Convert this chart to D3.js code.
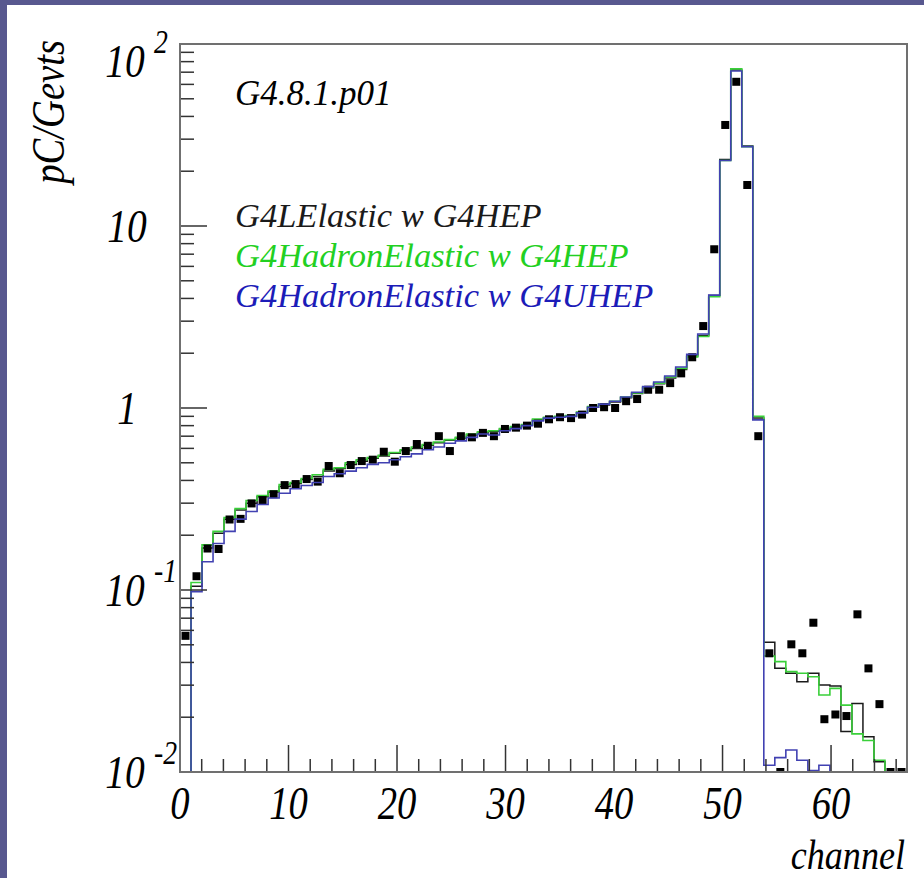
<!DOCTYPE html>
<html>
<head>
<meta charset="utf-8">
<script src="https://cdn.jsdelivr.net/npm/d3@7"></script>
<style>
body { margin: 0; background: #58588f; }
text { font-family: "Liberation Serif", "DejaVu Serif", serif; font-style: italic; }
</style>
</head>
<body>
<svg id="chart" width="924" height="878"></svg>
<script>
// 66 bins spanning channel 0..67
var nBins = 66;
var xMax = 67;

// measured charge per bin (pC/Gevts)
var dataPoints = [0.056, 0.119, 0.169, 0.168, 0.244, 0.246, 0.299, 0.312, 0.336, 0.377,
	0.382, 0.407, 0.394, 0.48, 0.438, 0.486, 0.511, 0.52, 0.575, 0.507,
	0.58, 0.634, 0.62, 0.70, 0.58, 0.70, 0.69, 0.73, 0.70, 0.767,
	0.78, 0.80, 0.82, 0.867, 0.89, 0.88, 0.92, 1.0, 1.01, 1.0,
	1.09, 1.12, 1.26, 1.26, 1.37, 1.55, 1.90, 2.82, 7.45, 35.9,
	62, 16.8, 0.70, 0.0449, 0.01, 0.0503, 0.0449, 0.0661, 0.0195, 0.0207,
	0.0203, 0.0735, 0.0371, 0.0236, 0.01, 0.01];

// G4LElastic w G4HEP
var lelasticHep = [0, 0.105, 0.17, 0.205, 0.245, 0.275, 0.30, 0.325, 0.345, 0.37,
	0.385, 0.405, 0.42, 0.45, 0.465, 0.49, 0.51, 0.53, 0.545, 0.565,
	0.585, 0.60, 0.625, 0.645, 0.665, 0.685, 0.71, 0.73, 0.745, 0.765,
	0.785, 0.805, 0.86, 0.88, 0.895, 0.905, 0.945, 1.01, 1.04, 1.08,
	1.14, 1.20, 1.29, 1.36, 1.46, 1.63, 1.93, 2.5, 4.15, 23.2,
	72, 27.5, 0.88, 0.0516, 0.0371, 0.0349, 0.0313, 0.0349, 0.0301, 0.0297,
	0.0167, 0.0238, 0.0156, 0.0114, 0, 0];

// G4HadronElastic w G4HEP
var hadronHep = [0, 0.11, 0.177, 0.21, 0.25, 0.28, 0.31, 0.33, 0.35, 0.38,
	0.39, 0.41, 0.43, 0.46, 0.47, 0.50, 0.52, 0.535, 0.55, 0.57,
	0.59, 0.61, 0.63, 0.65, 0.67, 0.69, 0.72, 0.74, 0.75, 0.77,
	0.79, 0.81, 0.87, 0.89, 0.90, 0.91, 0.95, 1.02, 1.05, 1.09,
	1.15, 1.21, 1.30, 1.37, 1.48, 1.65, 1.91, 2.47, 4.09, 22.9,
	73, 27.3, 0.90, 0.0434, 0.0404, 0.0356, 0.0349, 0.0334, 0.0265, 0.0288,
	0.0233, 0.0162, 0.0149, 0.0116, 0, 0];

// G4HadronElastic w G4UHEP
var hadronUhep = [0, 0.098, 0.143, 0.18, 0.21, 0.245, 0.27, 0.295, 0.32, 0.34,
	0.36, 0.375, 0.39, 0.42, 0.435, 0.45, 0.47, 0.49, 0.50, 0.52,
	0.54, 0.56, 0.59, 0.61, 0.64, 0.66, 0.69, 0.72, 0.71, 0.75,
	0.77, 0.80, 0.85, 0.88, 0.89, 0.90, 0.94, 1.01, 1.05, 1.09,
	1.15, 1.22, 1.31, 1.39, 1.50, 1.68, 1.97, 2.55, 4.17, 22.9,
	71, 27.3, 0.86, 0.0109, 0.0120, 0.0132, 0.0116, 0.0102, 0.0109, 0,
	0, 0, 0, 0, 0, 0];
// the UHEP outline starts and ends at this level on the frame edges
var uhepEdge = 1;

var xTickLabels = [0, 10, 20, 30, 40, 50, 60];
var yDecades = [-2, -1, 0, 1, 2];

var legendNames = ["G4LElastic w G4HEP", "G4HadronElastic w G4HEP", "G4HadronElastic w G4UHEP"];

var frame = {left: 180, top: 44, right: 907, bottom: 772};
var colBlack = "#1a1a1a", colGreen = "#3ad03a", colBlue = "#4141b2";

var svg = d3.select("#chart");

// slide background and white panel
svg.append("rect").attr("width", 924).attr("height", 878).attr("fill", "#58588f");
svg.append("rect").attr("x", 7).attr("y", 5).attr("width", 917).attr("height", 873).attr("fill", "#fff");

var x = d3.scaleLinear().domain([0, xMax]).range([frame.left, frame.right]);
var y = d3.scaleLog().domain([0.01, 100]).range([frame.bottom, frame.top]);
var binW = xMax / nBins;

function yv(v) {
	return v > 0.01 ? y(Math.min(v, 100)) : frame.bottom;
}

svg.append("clipPath").attr("id", "clip")
	.append("rect")
	.attr("x", frame.left).attr("y", frame.top)
	.attr("width", frame.right - frame.left).attr("height", frame.bottom - frame.top);

var plot = svg.append("g").attr("clip-path", "url(#clip)");

// histogram outline as a step line
function steps(vals, edge) {
	var pts = [[0, edge || 0]];
	vals.forEach(function(v, i) {
		pts.push([i * binW, v]);
		pts.push([(i + 1) * binW, v]);
	});
	pts.push([nBins * binW, edge || 0]);
	return d3.line()
		.x(function(p) { return x(p[0]); })
		.y(function(p) { return yv(p[1]); })(pts);
}

plot.append("path").attr("d", steps(lelasticHep))
	.attr("fill", "none").attr("stroke", colBlack).attr("stroke-width", 1.5);
plot.append("path").attr("d", steps(hadronHep))
	.attr("fill", "none").attr("stroke", colGreen).attr("stroke-width", 1.6);

// data markers
plot.selectAll("rect.pt")
	.data(dataPoints)
	.enter().append("rect")
	.attr("class", "pt")
	.attr("x", function(d, i) { return x((i + 0.5) * binW) - 4; })
	.attr("y", function(d) { return yv(d) - 4; })
	.attr("width", 8).attr("height", 8)
	.attr("fill", "#000");

plot.append("path").attr("d", steps(hadronUhep, uhepEdge))
	.attr("fill", "none").attr("stroke", colBlue).attr("stroke-width", 1.6);

// ticks
var ticks = svg.append("g").attr("stroke", "#333").attr("stroke-width", 1.5);
d3.range(2, xMax, 2).forEach(function(c) {
	var len = c % 10 === 0 ? 27 : 13;
	ticks.append("line")
		.attr("x1", x(c)).attr("x2", x(c))
		.attr("y1", frame.bottom).attr("y2", frame.bottom - len);
});
yDecades.forEach(function(p) {
	var base = Math.pow(10, p);
	ticks.append("line")
		.attr("x1", frame.left).attr("x2", frame.left + 27)
		.attr("y1", y(base)).attr("y2", y(base));
	if (p === 2) return;
	for (var k = 2; k <= 9; k++) {
		ticks.append("line")
			.attr("x1", frame.left).attr("x2", frame.left + 14)
			.attr("y1", y(k * base)).attr("y2", y(k * base));
	}
});

// frame
svg.append("rect")
	.attr("x", frame.left).attr("y", frame.top)
	.attr("width", frame.right - frame.left).attr("height", frame.bottom - frame.top)
	.attr("fill", "none").attr("stroke", "#707070").attr("stroke-width", 2);

// axis text is set narrow, like the ROOT axis font
function axisText(px, py, size, str, anchor, rot) {
	var g = svg.append("g")
		.attr("transform", "translate(" + px + "," + py + ")" + (rot ? " rotate(" + rot + ")" : "") + " scale(0.84,1)");
	return g.append("text")
		.attr("text-anchor", anchor || "start")
		.attr("font-size", size)
		.text(str);
}

// x labels
xTickLabels.forEach(function(d) {
	axisText(x(d), 819, 46, d, "middle");
});

// y labels
yDecades.forEach(function(p) {
	var ty = y(Math.pow(10, p));
	if (p === 2) ty += 17;
	if (p === 0 || p === 1) {
		axisText(127, ty + 16, 47, p === 0 ? "1" : "10", "middle");
	} else {
		axisText(125, ty + 16, 47, "10", "middle");
		axisText(154, ty - 8, 33, String(p));
	}
});

// axis titles
axisText(64, 40, 46, "pC/Gevts", "end", -90);
axisText(905, 869, 43, "channel", "end");

// version tag and legend
svg.append("text")
	.attr("x", 235).attr("y", 105)
	.attr("font-size", 35)
	.text("G4.8.1.p01");

var legendCols = [colBlack, "#22d022", "#1c1cb8"];
legendNames.forEach(function(name, i) {
	svg.append("text")
		.attr("x", 235).attr("y", 227 + i * 40)
		.attr("font-size", 34.5)
		.attr("fill", legendCols[i])
		.text(name);
});
</script>
</body>
</html>
